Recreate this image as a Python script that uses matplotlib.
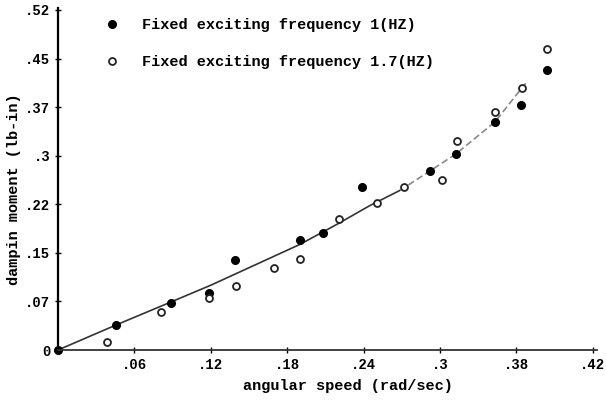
import matplotlib.pyplot as plt
import numpy as np

# 1 Hz (filled) and 1.7 Hz (open) measurements
speed_1hz = [0.0, 0.0456, 0.0887, 0.1186, 0.139, 0.190, 0.208, 0.239, 0.292, 0.3126, 0.343, 0.3636, 0.384]
moment_1hz = [0.0, 0.0386, 0.0726, 0.088, 0.139, 0.170, 0.181, 0.252, 0.276, 0.3027, 0.352, 0.378, 0.432]

speed_17hz = [0.0385, 0.0809, 0.1186, 0.140, 0.170, 0.190, 0.221, 0.2505, 0.272, 0.302, 0.3134, 0.343, 0.3644, 0.384]
moment_17hz = [0.0124, 0.0587, 0.080, 0.099, 0.127, 0.140, 0.202, 0.227, 0.252, 0.262, 0.323, 0.3675, 0.4046, 0.465]

# fitted curve
curve_x = [0.0, 0.0456, 0.0887, 0.120, 0.150, 0.190, 0.220, 0.245, 0.2686, 0.2922, 0.3126, 0.3432, 0.3644, 0.3683]
curve_y = [0.0, 0.0386, 0.0741, 0.100, 0.127, 0.163, 0.195, 0.223, 0.2464, 0.2764, 0.3027, 0.352, 0.4046, 0.4138]
solid_end = 9

xticks = [0.06, 0.12, 0.18, 0.24, 0.30, 0.36, 0.42]
xtick_labels = [".06", ".12", ".18", ".24", ".3", ".38", ".42"]
yticks = [0.0, 0.075, 0.15, 0.225, 0.30, 0.375, 0.45, 0.525]
ytick_labels = ["0", ".07", ".15", ".22", ".3", ".37", ".45", ".52"]

mono = "Liberation Mono"

fig = plt.figure(figsize=(6.06, 4.0), dpi=100)
ax = fig.add_axes([58 / 606, 50 / 400, 539 / 606, 342 / 400])

ax.plot(curve_x[:solid_end], curve_y[:solid_end], color="#333333", lw=1.2)
ax.plot(curve_x[solid_end - 1:], curve_y[solid_end - 1:], color="#888888", lw=1.2, ls=(0, (4, 2)))

ax.plot(speed_1hz, moment_1hz, "o", color="black", ms=5.5, ls="none",
        label="Fixed exciting frequency 1(HZ)", clip_on=False)
ax.plot(speed_17hz, moment_17hz, "o", mfc="white", mec="#222222", mew=1.3, ms=5,
        ls="none", label="Fixed exciting frequency 1.7(HZ)", clip_on=False)

ax.set_xlim(0, 0.4234)
ax.set_ylim(0, 0.528)
ax.spines["top"].set_visible(False)
ax.spines["right"].set_visible(False)
ax.spines["left"].set_linewidth(1.6)
ax.spines["bottom"].set_linewidth(1.3)
ax.spines["bottom"].set_color("#333333")

ax.set_xticks(xticks)
ax.set_xticklabels(xtick_labels, fontfamily=mono, fontweight="bold", fontsize=10)
ax.set_yticks(yticks)
ax.set_yticklabels(ytick_labels, fontfamily=mono, fontweight="bold", fontsize=10)
ax.tick_params(direction="inout", length=5, width=1, pad=3)

ax.set_xlabel("angular speed (rad/sec)", fontfamily=mono, fontweight="bold", fontsize=11)
ax.xaxis.set_label_coords(0.538, -0.085)
ax.set_ylabel("dampin moment (lb-in)", fontfamily=mono, fontweight="bold", fontsize=11)
ax.yaxis.set_label_coords(-0.068, 0.47)

ax.legend(loc="upper left", bbox_to_anchor=(0.06, 1.01), frameon=False,
          prop={"family": mono, "weight": "bold", "size": 11},
          handlelength=1.0, handletextpad=1.5, labelspacing=1.5)

fig.savefig("out.png", dpi=100)
